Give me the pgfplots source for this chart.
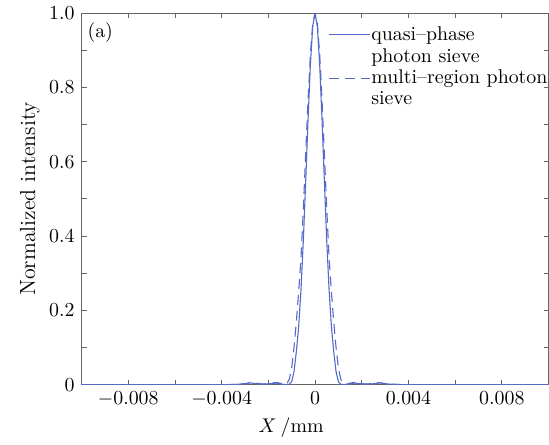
\documentclass[border=0pt]{standalone}
\usepackage{pgfplots}
\pgfplotsset{compat=1.18}
\begin{document}
\definecolor{curve}{RGB}{85,105,200}
\definecolor{frame}{RGB}{100,100,100}
\begin{tikzpicture}
\begin{axis}[
    width=235pt, height=187pt,
    scale only axis,
    xmin=-0.01, xmax=0.01,
    ymin=0, ymax=1,
    axis line style={frame, line width=0.5pt},
    tick style={frame, line width=0.4pt},
    tick align=inside,
    major tick length=2.5pt,
    minor tick length=2.5pt,
    xtick={-0.008,-0.004,0,0.004,0.008},
    xticklabels={$-0.008$,$-0.004$,$0$,$0.004$,$0.008$},
    minor xtick={-0.01,-0.006,-0.002,0.002,0.006,0.01},
    ytick={0,0.2,0.4,0.6,0.8,1},
    yticklabels={$0$,$0.2$,$0.4$,$0.6$,$0.8$,$1.0$},
    minor ytick={0.1,0.3,0.5,0.7,0.9},
    scaled x ticks=false,
    xlabel={$X$\kern2pt/mm},
    ylabel={Normalized intensity},
    xlabel style={yshift=1pt, xshift=-12pt},
    ylabel style={yshift=-2pt, font=\fontsize{11}{13}\selectfont},
    legend style={draw=none, fill=none, at={(axis cs:0.00056,0.97)}, anchor=north west,
        inner sep=0pt, row sep=0.5pt, column sep=0pt,
        nodes={inner xsep=0.5pt, inner ysep=1pt}},
    legend cell align=left,
    legend image post style={xscale=1.2},
]
\addplot[curve, line width=0.55pt] coordinates {
(-0.01,0) (-0.0036,0) (-0.0033,0.001) (-0.003,0.002) (-0.0028,0.005) (-0.0026,0.003)
(-0.0023,0.001) (-0.002,0.002) (-0.0017,0.004) (-0.0014,0.001) (-0.0012,0.0)
(-0.0011,0.001) (-0.001,0.008) (-0.0009,0.035) (-0.0008,0.089) (-0.0007,0.157)
(-0.0006,0.257) (-0.0005,0.389) (-0.0004,0.547) (-0.0003,0.712) (-0.0002,0.86)
(-0.0001,0.963) (0,1) (0.0001,0.963) (0.0002,0.86) (0.0003,0.712) (0.0004,0.547)
(0.0005,0.389) (0.0006,0.257) (0.0007,0.157) (0.0008,0.089) (0.0009,0.035)
(0.001,0.008) (0.0011,0.001) (0.0012,0.0) (0.0014,0.001) (0.0017,0.004)
(0.002,0.002) (0.0023,0.001) (0.0026,0.003) (0.0028,0.005) (0.003,0.002)
(0.0033,0.001) (0.0036,0) (0.01,0)
};
\addlegendentry{quasi--phase}
\addlegendimage{empty legend}
\addlegendentry{photon sieve}
\addplot[curve, line width=0.55pt, dash pattern=on 5pt off 3pt] coordinates {
(-0.01,0) (-0.0037,0) (-0.0031,0.002) (-0.0027,0.005) (-0.0023,0.002)
(-0.0019,0.002) (-0.0017,0.006) (-0.0015,0.004) (-0.0013,0.0) (-0.0012,0.003)
(-0.0011,0.015) (-0.001,0.045) (-0.0009,0.1) (-0.0008,0.17) (-0.0007,0.25)
(-0.0006,0.343) (-0.0005,0.475) (-0.0004,0.621) (-0.0003,0.765) (-0.0002,0.888)
(-0.0001,0.971) (0,1) (0.0001,0.971) (0.0002,0.888) (0.0003,0.765) (0.0004,0.621)
(0.0005,0.475) (0.0006,0.343) (0.0007,0.25) (0.0008,0.17) (0.0009,0.1)
(0.001,0.045) (0.0011,0.015) (0.0012,0.003) (0.0013,0.0) (0.0015,0.004)
(0.0017,0.006) (0.0019,0.002) (0.0023,0.002) (0.0027,0.005) (0.0031,0.002)
(0.0037,0) (0.01,0)
};
\addlegendentry{multi--region photon}
\addlegendimage{empty legend}
\addlegendentry{sieve}
\node[anchor=north west, inner sep=0pt] at (rel axis cs:0.012,0.975) {(a)};
\end{axis}
\end{tikzpicture}
\end{document}
